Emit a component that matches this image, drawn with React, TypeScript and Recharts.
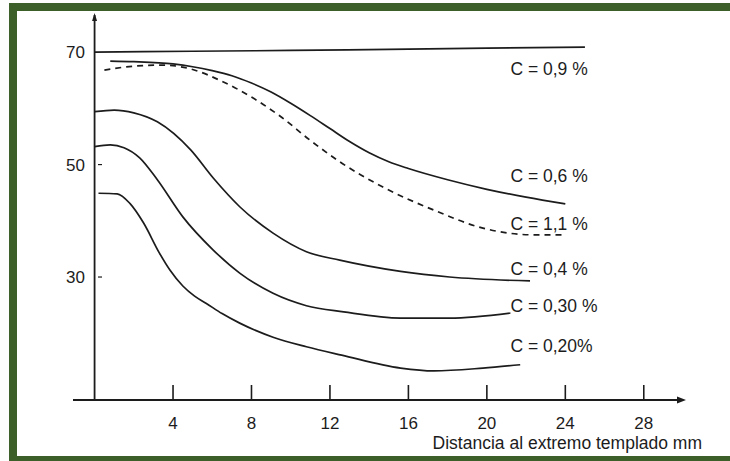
import React from 'react';
import { ComposedChart, Line, XAxis, YAxis, ReferenceLine, Scatter } from 'recharts';

// axis ticks
const xTicks = [4, 8, 12, 16, 20, 24, 28];
const yTicks = [30, 50, 70];
const xDomain: [number, number] = [-1.1, 30];
const yDomain: [number, number] = [8.13, 76.6];

// C = 0,9 %
const c09X = [0, 5, 10, 15, 20, 25];
const c09Y = [70, 70.15, 70.3, 70.5, 70.7, 70.9];
// C = 0,6 %
const c06X = [0.8, 2, 4, 5, 6, 7, 8, 9, 10, 11, 12, 13, 14, 15, 16, 18, 20, 22, 24];
const c06Y = [68.4, 68.3, 67.9, 67.4, 66.7, 65.8, 64.5, 62.9, 60.9, 58.7, 56.4, 54.1, 52.1, 50.5, 49.3, 47.3, 45.6, 44.2, 43.0];
// C = 1,1 % (dashed)
const c11X = [0.5, 2, 3.5, 5, 6.5, 8, 9.5, 11, 12.5, 14.7, 17.3, 19.8, 22.4, 23.9];
const c11Y = [66.8, 67.5, 67.7, 66.9, 64.8, 62.0, 58.5, 54.3, 50.5, 46.0, 41.9, 38.7, 37.5, 37.5];
// C = 0,4 %
const c04X = [0, 1, 2, 3.2, 4.9, 6.05, 7.4, 9.1, 10.8, 12.5, 15.6, 18.1, 22.2];
const c04Y = [59.4, 59.7, 59.2, 57.6, 52.6, 47.6, 42.5, 37.8, 34.5, 33.0, 31.0, 30.0, 29.3];
// C = 0,30 %
const c030X = [0, 0.8, 1.5, 2.3, 3.2, 4.5, 6.05, 7.4, 9.1, 10.8, 12.7, 15.6, 18.1, 21.2];
const c030Y = [53.2, 53.5, 53.0, 51.2, 47.3, 40.7, 34.8, 30.7, 27.1, 24.9, 23.8, 22.7, 22.7, 23.6];
// C = 0,20 %
const c020X = [0.2, 1.15, 1.8, 2.5, 3.3, 3.85, 4.5, 5.1, 5.7, 6.5, 7.4, 9.1, 10.8, 12.6, 15.6, 17.3, 19.8, 21.7];
const c020Y = [44.9, 44.8, 43.1, 39.6, 34.3, 31.2, 28.4, 26.6, 25.3, 23.5, 21.8, 19.3, 17.6, 16.1, 13.8, 13.3, 13.8, 14.4];

// curve labels
const labelTexts = ['C = 0,9 %', 'C = 0,6 %', 'C = 1,1 %', 'C = 0,4 %', 'C = 0,30 %', 'C = 0,20%'];
const labelX = [21.2, 21.2, 21.2, 21.2, 21.2, 21.2];
const labelY = [65.9, 46.9, 38.4, 30.4, 23.8, 16.7];

const axisTitle = 'Distancia al extremo templado mm';

const toPts = (xs: number[], ys: number[]) => xs.map((x, i) => ({ x, y: ys[i] }));

const c09 = toPts(c09X, c09Y);
const c06 = toPts(c06X, c06Y);
const c11 = toPts(c11X, c11Y);
const c04 = toPts(c04X, c04Y);
const c030 = toPts(c030X, c030Y);
const c020 = toPts(c020X, c020Y);
const labels = labelTexts.map((t, i) => ({ x: labelX[i], y: labelY[i], t }));

const INK = '#1c1c1c';
const FONT = '"Liberation Sans", Arial, sans-serif';

const XTick = (props: any) => {
  const { x, y, payload } = props;
  return (
    <g>
      <line x1={x} x2={x} y1={y} y2={y - 15} stroke={INK} strokeWidth={1.6} />
      <text x={x} y={y + 29} textAnchor="middle" fontSize={17} fontFamily={FONT} fill={INK}>
        {payload.value}
      </text>
    </g>
  );
};

const YTick = (props: any) => {
  const { x, y, payload } = props;
  return (
    <g>
      <text x={x + 12} y={y + 6} textAnchor="end" fontSize={17} fontFamily={FONT} fill={INK}>
        {payload.value}
      </text>
      {payload.value !== 70 && (
        <line x1={x + 25} x2={x + 29} y1={y} y2={y} stroke={INK} strokeWidth={1.2} />
      )}
    </g>
  );
};

const LabelShape = (props: any) => {
  const { cx, cy, payload } = props;
  return (
    <text x={cx} y={cy} fontSize={17.5} fontFamily={FONT} fill={INK}>
      {payload.t}
    </text>
  );
};

const XArrow = (props: any) => {
  const { cx, cy } = props;
  return (
    <g>
      <polygon points={`${cx + 3},${cy} ${cx - 6},${cy - 3.5} ${cx - 6},${cy + 3.5}`} fill={INK} />
      <text x={cx + 19} y={cy + 49} textAnchor="end" fontSize={17.5} fontFamily={FONT} fill={INK}>
        {axisTitle}
      </text>
    </g>
  );
};

const YArrow = (props: any) => {
  const { cx, cy } = props;
  return <polygon points={`${cx},${cy - 2} ${cx - 2.5},${cy + 6} ${cx + 2.5},${cy + 6}`} fill={INK} />;
};

export default function App() {
  return (
    <div style={{ position: 'absolute', left: 0, top: 0, width: 730, height: 461, overflow: 'hidden', background: '#fdfdfd' }}>
      <div
        style={{
          position: 'absolute',
          left: 9,
          top: 3,
          width: 740,
          height: 461,
          boxSizing: 'border-box',
          border: '8px solid #3c5e28',
          borderRight: 'none',
          background: '#ffffff',
        }}
      />
      <div style={{ position: 'absolute', left: 0, top: 0 }}>
        <ComposedChart width={730} height={461} margin={{ top: 15, right: 47, left: 0, bottom: 0 }}>
          <XAxis
            type="number"
            dataKey="x"
            domain={xDomain}
            ticks={xTicks}
            height={61}
            tickLine={false}
            tickSize={0}
            tickMargin={0}
            axisLine={{ stroke: INK, strokeWidth: 1.8 }}
            tick={<XTick />}
            interval={0}
          />
          <YAxis
            type="number"
            dataKey="y"
            domain={yDomain}
            ticks={yTicks}
            width={73}
            axisLine={false}
            tickLine={false}
            tickSize={0}
            tickMargin={0}
            tick={<YTick />}
            interval={0}
          />
          <ReferenceLine x={0} stroke={INK} strokeWidth={1.8} />
          <Line data={c09} dataKey="y" type="monotone" stroke={INK} strokeWidth={1.7} dot={false} isAnimationActive={false} />
          <Line data={c06} dataKey="y" type="monotone" stroke={INK} strokeWidth={1.7} dot={false} isAnimationActive={false} />
          <Line data={c11} dataKey="y" type="monotone" stroke={INK} strokeWidth={1.7} strokeDasharray="6 5" dot={false} isAnimationActive={false} />
          <Line data={c04} dataKey="y" type="monotone" stroke={INK} strokeWidth={1.7} dot={false} isAnimationActive={false} />
          <Line data={c030} dataKey="y" type="monotone" stroke={INK} strokeWidth={1.7} dot={false} isAnimationActive={false} />
          <Line data={c020} dataKey="y" type="monotone" stroke={INK} strokeWidth={1.7} dot={false} isAnimationActive={false} />
          <Scatter data={labels} shape={<LabelShape />} isAnimationActive={false} />
          <Scatter data={[{ x: xDomain[1], y: yDomain[0] }]} shape={<XArrow />} isAnimationActive={false} />
          <Scatter data={[{ x: 0, y: yDomain[1] }]} shape={<YArrow />} isAnimationActive={false} />
        </ComposedChart>
      </div>
    </div>
  );
}
